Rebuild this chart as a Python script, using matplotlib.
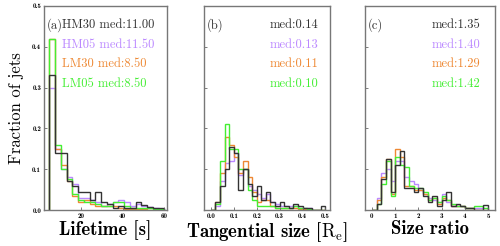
import matplotlib.pyplot as plt
import numpy as np

plt.rcParams['mathtext.fontset'] = 'cm'
plt.rcParams['axes.unicode_minus'] = False

runs = ['HM30', 'HM05', 'LM30', 'LM05']
colors = ['#333333', '#bb88ff', '#ee8833', '#44ee33']

# Lifetime [s], 20 bins from 5 to 60 s
life_edges = np.linspace(5, 60, 21)
life = {
    'HM30': [0.33, 0.14, 0.14, 0.07, 0.06, 0.045, 0.045, 0.025, 0.045, 0.02,
             0.015, 0.005, 0.01, 0.005, 0.005, 0.02, 0.012, 0.008, 0.005, 0.005],
    'HM05': [0.30, 0.15, 0.10, 0.08, 0.065, 0.03, 0.03, 0.025, 0.02, 0.01,
             0.015, 0.02, 0.025, 0.02, 0.01, 0.015, 0.01, 0.008, 0.005, 0.003],
    'LM30': [0.42, 0.15, 0.11, 0.07, 0.035, 0.02, 0.025, 0.015, 0.01, 0.01,
             0.01, 0.01, 0.005, 0.003, 0.003, 0.003, 0.002, 0.005, 0.002, 0.0],
    'LM05': [0.42, 0.16, 0.10, 0.075, 0.04, 0.025, 0.02, 0.02, 0.015, 0.01,
             0.01, 0.02, 0.02, 0.01, 0.005, 0.005, 0.005, 0.005, 0.003, 0.002],
}
life_med = ['11.00', '11.50', '8.50', '8.50']

# Tangential size [R_e], 25 bins from 0 to 0.5
tang_edges = np.linspace(0, 0.5, 26)
tang = {
    'HM30': [0, 0.02, 0.06, 0.10, 0.155, 0.14, 0.05, 0.10, 0.065, 0.035, 0.06, 0.025,
             0.045, 0.02, 0.01, 0.02, 0.01, 0.005, 0.015, 0.01, 0.005, 0.005, 0.0, 0.0, 0.01],
    'HM05': [0, 0.01, 0.07, 0.115, 0.12, 0.14, 0.085, 0.10, 0.06, 0.05, 0.04, 0.03,
             0.04, 0.02, 0.015, 0.01, 0.01, 0.01, 0.01, 0.005, 0.005, 0.005, 0.0, 0.0, 0.0],
    'LM30': [0, 0.02, 0.09, 0.18, 0.16, 0.13, 0.09, 0.12, 0.08, 0.045, 0.02, 0.025,
             0.025, 0.01, 0.005, 0.005, 0.005, 0.005, 0.005, 0.002, 0.002, 0, 0, 0, 0],
    'LM05': [0, 0.015, 0.12, 0.21, 0.15, 0.15, 0.10, 0.10, 0.05, 0.025, 0.01, 0.01,
             0.01, 0.01, 0.005, 0.005, 0.005, 0.005, 0.01, 0.005, 0.005, 0.002, 0, 0, 0],
}
tang_med = ['0.14', '0.13', '0.11', '0.10']

# Size ratio, 25 bins from 0 to 5
ratio_edges = np.linspace(0, 5, 26)
ratio = {
    'HM30': [0, 0.015, 0.075, 0.125, 0.045, 0.11, 0.145, 0.055, 0.055, 0.045, 0.055, 0.035,
             0.02, 0.035, 0.01, 0.025, 0.045, 0.01, 0.015, 0.01, 0.005, 0.005, 0.0, 0.0, 0.012],
    'HM05': [0, 0.03, 0.09, 0.10, 0.07, 0.12, 0.12, 0.08, 0.07, 0.065, 0.05, 0.04,
             0.03, 0.025, 0.02, 0.04, 0.02, 0.01, 0.01, 0.01, 0.005, 0.005, 0.005, 0.005, 0.0],
    'LM30': [0, 0.025, 0.08, 0.125, 0.04, 0.15, 0.13, 0.06, 0.06, 0.05, 0.05, 0.04,
             0.025, 0.03, 0.015, 0.03, 0.025, 0.01, 0.01, 0.01, 0.005, 0.005, 0.0, 0.0, 0.0],
    'LM05': [0, 0.015, 0.065, 0.12, 0.035, 0.13, 0.11, 0.105, 0.06, 0.055, 0.055, 0.045,
             0.025, 0.03, 0.02, 0.035, 0.025, 0.015, 0.01, 0.01, 0.005, 0.005, 0.01, 0.01, 0.005],
}
ratio_med = ['1.35', '1.40', '1.29', '1.42']

# tag, edges, data, medians, xlabel, xlim, xticks, tick labels, text x, first panel
panels = [
    ('(a)', life_edges, life, life_med, 'Lifetime [s]', (2.5, 61.2), [20, 40, 60],
     ['20', '40', '60'], 0.146, True),
    ('(b)', tang_edges, tang, tang_med, r'Tangential size [$\mathrm{R_e}$]', (-0.03, 0.52),
     [0.0, 0.1, 0.2, 0.3, 0.4, 0.5], ['0.0', '0.1', '0.2', '0.3', '0.4', '0.5'], 0.52, False),
    ('(c)', ratio_edges, ratio, ratio_med, 'Size ratio', (-0.3, 5.3), [0, 1, 2, 3, 4, 5],
     ['0', '1', '2', '3', '4', '5'], 0.51, False),
]
positions = [[0.088, 0.146, 0.246, 0.83],
             [0.408, 0.146, 0.252, 0.83],
             [0.730, 0.146, 0.260, 0.83]]
yticks = [0.0, 0.1, 0.2, 0.3, 0.4, 0.5]

fig = plt.figure(figsize=(5, 2.46), dpi=100)
for (tag, edges, data, meds, xlabel, xlim, xticks, xtl, tx, first), pos in zip(panels, positions):
    ax = fig.add_axes(pos)
    for name, c in zip(['HM05', 'LM30', 'LM05', 'HM30'], [colors[1], colors[2], colors[3], colors[0]]):
        ax.stairs(data[name], edges, color=c, lw=1.0)
    ax.set_xlim(*xlim)
    ax.set_ylim(0, 0.5)
    ax.set_xticks(xticks)
    ax.set_xticklabels(xtl, family='cmb10', fontsize=5)
    ax.set_yticks(yticks)
    ax.tick_params(direction='in', length=2.5, width=0.6, color='#666666', pad=2)
    if first:
        ax.set_yticklabels(['0.0', '0.1', '0.2', '0.3', '0.4', '0.5'], family='cmb10', fontsize=5)
        ax.set_ylabel('Fraction of jets', family='cmr10', fontsize=12, labelpad=6)
    else:
        ax.set_yticklabels([])
    for s in ax.spines.values():
        s.set_color('#777777')
        s.set_linewidth(1.0)
    ax.set_xlabel(xlabel, family='cmb10', fontsize=13.5, labelpad=1)
    ax.text(0.02, 0.905, tag, transform=ax.transAxes, family='cmr10', fontsize=9,
            color='#333333', va='center')
    for i, (name, med, c) in enumerate(zip(runs, meds, colors)):
        label = f'{name} med:{med}' if first else f'med:{med}'
        ax.text(tx, 0.905 - 0.095 * i, label, transform=ax.transAxes, family='cmr10',
                fontsize=9, color=c, ha='left', va='center')

fig.savefig('out.png', dpi=100)
